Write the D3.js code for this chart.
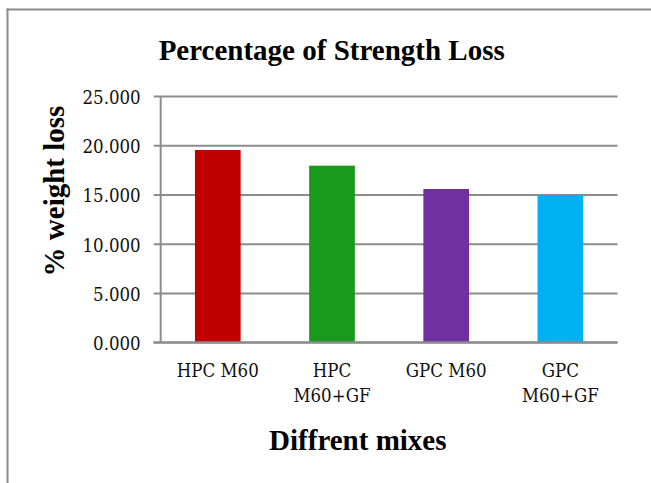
<!DOCTYPE html>
<html>
<head>
<meta charset="utf-8">
<script src="https://cdn.jsdelivr.net/npm/d3@7"></script>
<style>
  html, body { margin: 0; padding: 0; background: #fff; overflow: hidden; }
  svg { display: block; }
</style>
</head>
<body>
<div id="chart"></div>
<script>
// values
let mixes = [["HPC M60"], ["HPC", "M60+GF"], ["GPC M60"], ["GPC", "M60+GF"]];
let mixKeys = ["HPC M60", "HPC M60+GF", "GPC M60", "GPC M60+GF"];
let weightLoss = [19.52, 17.93, 15.56, 14.95];
let barColors = ["#c00000", "#1a9a1c", "#7030a0", "#00b0f0"];
let yTicks = [0, 5, 10, 15, 20, 25];

function main() {
    let width = 651;
    let height = 483;

    let svg = d3.select("#chart").append("svg")
        .attr("width", width)
        .attr("height", height);

    // white page behind everything
    svg.append("rect")
        .attr("width", width)
        .attr("height", height)
        .attr("fill", "#fff");

    // frame around chart area (cut off at right and bottom)
    svg.append("line")
        .attr("x1", 7.5).attr("x2", 7.5)
        .attr("y1", 8.5).attr("y2", height)
        .attr("stroke", "#8a8a8a")
        .attr("stroke-width", 2);
    svg.append("line")
        .attr("x1", 6.5).attr("x2", width)
        .attr("y1", 9.5).attr("y2", 9.5)
        .attr("stroke", "#8a8a8a")
        .attr("stroke-width", 2);

    let xScale = d3.scaleBand()
        .domain(mixKeys)
        .range([160.7, 617.5])
        .paddingInner(0.6)
        .paddingOuter(0.3);

    let yScale = d3.scaleLinear()
        .domain([0, 25])
        .range([342.3, 96]);

    // gridlines + y tick labels
    let yAxis = svg.append("g")
        .attr("transform", "translate(160.7,0)")
        .call(d3.axisLeft(yScale)
            .tickValues(yTicks)
            .tickSize(-(617.5 - 160.7))
            .tickFormat(d3.format(".3f")));
    yAxis.select(".domain").remove();
    yAxis.selectAll(".tick line")
        .attr("stroke", "#8c8c8c")
        .attr("stroke-width", 2)
        .attr("x1", -7);
    yAxis.selectAll(".tick text")
        .attr("x", -20)
        .attr("dy", "0.4em")
        .attr("fill", "#111")
        .style("font-family", "'DejaVu Serif Condensed', 'DejaVu Serif'")
        .style("font-stretch", "condensed")
        .style("font-size", "18.5px");

    // bars
    svg.append("g")
        .selectAll("rect")
        .data(weightLoss)
        .enter()
        .append("rect")
        .attr("x", (d, i) => xScale(mixKeys[i]))
        .attr("y", d => yScale(d))
        .attr("width", xScale.bandwidth())
        .attr("height", d => yScale(0) - yScale(d))
        .attr("fill", (d, i) => barColors[i]);

    // axis lines
    svg.append("line")
        .attr("x1", 153.5).attr("x2", 617.5)
        .attr("y1", yScale(0)).attr("y2", yScale(0))
        .attr("stroke", "#8c8c8c")
        .attr("stroke-width", 2);
    svg.append("line")
        .attr("x1", 160.7).attr("x2", 160.7)
        .attr("y1", yScale(25)).attr("y2", yScale(0))
        .attr("stroke", "#8c8c8c")
        .attr("stroke-width", 2);

    // category labels, two lines where the label wraps
    let catLabels = svg.append("g")
        .selectAll("text")
        .data(mixes)
        .enter()
        .append("text")
        .attr("text-anchor", "middle")
        .attr("fill", "#111")
        .style("font-family", "'DejaVu Serif Condensed', 'DejaVu Serif'")
        .style("font-stretch", "condensed")
        .style("font-size", "18.5px");
    catLabels.selectAll("tspan")
        .data((d, i) => d.map(t => ({t: t, k: mixKeys[i]})))
        .enter()
        .append("tspan")
        .attr("x", d => xScale(d.k) + xScale.bandwidth() / 2)
        .attr("y", (d, j) => 376.5 + j * 25)
        .text(d => d.t);

    // titles
    svg.append("text")
        .attr("x", 331.7)
        .attr("y", 59.5)
        .attr("text-anchor", "middle")
        .attr("font-family", "Liberation Serif")
        .attr("font-weight", "bold")
        .attr("font-size", 29)
        .text("Percentage of Strength Loss");

    svg.append("text")
        .attr("x", 357.8)
        .attr("y", 449.5)
        .attr("text-anchor", "middle")
        .attr("font-family", "Liberation Serif")
        .attr("font-weight", "bold")
        .attr("font-size", 29)
        .text("Diffrent mixes");

    svg.append("text")
        .attr("transform", "translate(64,191) rotate(-90)")
        .attr("text-anchor", "middle")
        .attr("font-family", "Liberation Serif")
        .attr("font-weight", "bold")
        .attr("font-size", 29)
        .text("% weight loss");
}

main();
</script>
</body>
</html>
